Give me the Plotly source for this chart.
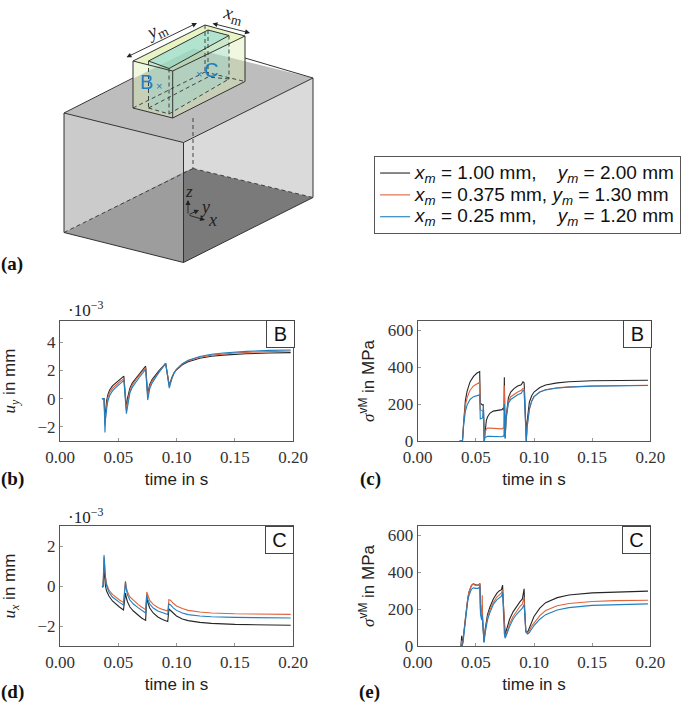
import plotly.graph_objects as go

W, H = 685, 703
BLACK, ORANGE, BLUE = "#262626", "#e0633a", "#1f7fc1"
_big = '<span style="font-size:19px">{}</span>'
NAMES = [
    _big.format("<i>x<sub>m</sub></i> = 1.00 mm,\u00a0\u00a0\u00a0\u00a0<i>y<sub>m</sub></i> = 2.00 mm"),
    _big.format("<i>x<sub>m</sub></i> = 0.375 mm,\u00a0<i>y<sub>m</sub></i> = 1.30 mm"),
    _big.format("<i>x<sub>m</sub></i> = 0.25 mm,\u00a0\u00a0\u00a0\u00a0<i>y<sub>m</sub></i> = 1.20 mm"),
]
XTICKS = [0.0, 0.05, 0.10, 0.15, 0.20]

# ---- panel b: u_y at B (1e-3 mm)
B_UY_T_K = [0.036,0.0378,0.0386,0.039,0.040,0.041,0.0425,0.045,0.048,0.051,0.054,0.0548,0.0570,0.058,0.060,0.062,0.065,0.068,0.071,0.0735,0.0753,0.0762,0.077,0.079,0.082,0.085,0.088,0.0907,0.0938,0.0945,0.096,0.098,0.100,0.105,0.110,0.120,0.130,0.140,0.150,0.160,0.180,0.198]
B_UY_K = [0,0,-1.4,-0.9,-0.15,0.25,0.6,0.9,1.12,1.32,1.52,1.6,-0.65,0.05,0.75,1.1,1.42,1.72,2.02,2.3,0.35,0.75,1.0,1.35,1.68,1.98,2.25,2.5,0.95,1.15,1.5,1.85,2.05,2.4,2.62,2.86,3.0,3.08,3.14,3.18,3.23,3.26]
B_UY_O = [0,0,-1.9,-1.2,-0.45,0.05,0.42,0.72,0.98,1.18,1.36,1.45,-0.85,-0.2,0.55,0.95,1.32,1.62,1.92,2.2,0.12,0.6,0.88,1.25,1.6,1.92,2.22,2.5,0.85,1.08,1.46,1.84,2.07,2.45,2.68,2.93,3.08,3.17,3.23,3.28,3.34,3.38]
B_UY_B = [0,0,-2.4,-1.5,-0.75,-0.2,0.2,0.55,0.8,1.0,1.2,1.3,-1.07,-0.45,0.4,0.8,1.2,1.5,1.8,2.1,-0.1,0.42,0.7,1.1,1.5,1.88,2.2,2.5,0.75,1.0,1.42,1.82,2.08,2.47,2.72,2.98,3.14,3.23,3.3,3.35,3.42,3.45]

# ---- panel c: von Mises at B (MPa)
B_VM_T_K = [0.036,0.0385,0.0395,0.040,0.041,0.0425,0.045,0.048,0.051,0.0533,0.0538,0.0558,0.0565,0.0572,0.058,0.059,0.060,0.062,0.065,0.070,0.0725,0.0738,0.0742,0.0745,0.0748,0.0752,0.076,0.077,0.078,0.080,0.083,0.086,0.089,0.0905,0.0915,0.092,0.0925,0.0934,0.094,0.095,0.096,0.098,0.100,0.105,0.110,0.120,0.130,0.150,0.170,0.198]
B_VM_K = [0,0,100,170,220,270,320,350,368,376,205,195,190,0,70,110,130,150,162,168,170,180,165,345,100,20,130,200,235,265,285,298,305,320,315,250,100,0,100,170,210,245,265,290,303,315,321,326,328,329]
B_VM_O = [0,0,95,150,195,235,275,298,310,318,170,165,160,0,50,65,70,70,68,65,66,72,70,300,60,15,120,180,215,240,255,265,275,285,280,215,85,0,70,130,170,215,240,265,278,288,293,298,300,302]
B_VM_B = [0,0,85,125,160,195,225,240,248,250,120,125,200,0,20,25,25,25,25,22,23,28,25,200,40,12,120,180,205,225,240,250,258,275,270,210,85,0,72,132,172,216,240,265,277,287,292,297,299,301]

# ---- panel d: u_x at C (1e-3 mm)
C_UX_T = [0.036,0.037,0.0378,0.0385,0.039,0.040,0.042,0.045,0.048,0.051,0.0545,0.0562,0.057,0.058,0.060,0.063,0.067,0.070,0.0735,0.0745,0.0755,0.077,0.080,0.084,0.088,0.0925,0.0935,0.095,0.097,0.100,0.105,0.110,0.120,0.130,0.150,0.170,0.198]
C_UX_K = [-0.05,-0.03,0.9,0.4,0.0,-0.25,-0.5,-0.75,-0.92,-1.05,-1.2,-0.35,-0.6,-0.8,-1.05,-1.25,-1.45,-1.6,-1.72,-0.55,-0.85,-1.1,-1.35,-1.55,-1.68,-1.78,-1.15,-1.24,-1.36,-1.5,-1.65,-1.73,-1.82,-1.87,-1.92,-1.94,-1.96]
C_UX_O = [-0.05,-0.03,1.45,0.8,0.5,0.1,-0.2,-0.42,-0.58,-0.7,-0.82,0.25,-0.1,-0.3,-0.55,-0.72,-0.92,-1.05,-1.18,-0.3,-0.5,-0.72,-0.92,-1.07,-1.17,-1.25,-0.68,-0.72,-0.85,-1.0,-1.13,-1.22,-1.3,-1.35,-1.39,-1.41,-1.42]
C_UX_B = [-0.05,-0.03,1.55,0.8,0.4,0.0,-0.3,-0.55,-0.7,-0.82,-0.95,0.2,-0.2,-0.45,-0.7,-0.9,-1.08,-1.22,-1.35,-0.45,-0.7,-0.9,-1.1,-1.25,-1.35,-1.43,-0.9,-0.95,-1.08,-1.22,-1.35,-1.43,-1.5,-1.54,-1.57,-1.59,-1.6]

# ---- panel e: von Mises at C (MPa)
C_VM_T = [0.0372,0.0378,0.0382,0.039,0.040,0.041,0.042,0.043,0.044,0.045,0.046,0.047,0.048,0.050,0.052,0.0535,0.054,0.055,0.0555,0.0558,0.0565,0.057,0.058,0.059,0.060,0.062,0.065,0.068,0.070,0.072,0.073,0.0735,0.0745,0.0752,0.076,0.077,0.079,0.082,0.085,0.088,0.090,0.0915,0.092,0.093,0.0945,0.096,0.098,0.100,0.105,0.110,0.120,0.130,0.150,0.170,0.198]
C_VM_K = [0,55,0,30,90,150,210,255,290,312,325,333,336,330,330,338,200,165,220,150,60,25,90,140,170,210,255,285,298,305,330,250,90,60,80,105,145,185,215,240,255,310,200,80,75,100,135,160,205,235,262,276,288,293,297]
C_VM_O = [0,30,0,28,88,150,210,255,290,312,325,332,335,328,328,338,190,160,275,150,60,22,80,125,155,195,235,265,278,288,305,230,70,48,60,85,120,160,190,215,228,265,170,80,70,82,108,125,165,192,218,230,241,246,248]
C_VM_B = [0,10,0,20,78,138,198,240,272,293,305,312,315,312,312,322,170,140,170,130,50,18,70,112,140,180,225,250,262,270,290,210,65,42,52,70,105,145,172,195,205,225,150,75,65,72,92,110,145,170,195,208,220,225,228]

# ---- panel a: illustration vertices (reference picture pixels)
TOP_FACE = [(64,113),(183.5,142.5),(313,78),(193.5,48.5)]
LEFT_UP = [(64,113),(183.5,142.5),(183.5,172),(64,232.5)]
LEFT_LOW = [(64,232.5),(183.5,172),(183.5,262.5)]
RIGHT_UP = [(183.5,142.5),(313,78),(313,197.5),(193,168.5),(183.5,172)]
RIGHT_LOW = [(183.5,172),(193,168.5),(313,197.5),(183.5,262.5)]
BLK_LEFT = [(133,61),(172.7,71),(172.7,118),(133,108)]
BLK_RIGHT = [(172.7,71),(245,36),(245,81.5),(172.7,118)]
BLK_TOP = [(133,61),(172.7,71),(245,36),(205,25)]
INN_TOP = [(148.5,61),(169,68.5),(229,35.5),(208,30)]
INN_LEFT = [(148.5,61),(169,68.5),(169,114),(148.5,108)]
INN_RIGHT = [(169,68.5),(229,35.5),(229,79),(169,114)]

# domain px, y-title standoff
DOMS = {
    "": ((60, 293), (321, 441), 17),
    "2": ((417.7, 650.3), (321, 441), 8),
    "3": ((60, 293), (526, 646), 17),
    "4": ((417.7, 650.3), (526, 646), 8),
}
SERIF = "Liberation Serif"
SANS = "Liberation Sans"
fig = go.Figure()


def add(ax, t, ys, legend=False):
    for y, c, n in zip(ys, (BLACK, ORANGE, BLUE), NAMES):
        fig.add_trace(go.Scatter(x=t, y=y, mode="lines", name=n, showlegend=legend,
                                 line=dict(color=c, width=1.1), xaxis="x" + ax, yaxis="y" + ax))


add("", B_UY_T_K, (B_UY_K, B_UY_O, B_UY_B), True)
add("2", B_VM_T_K, (B_VM_K, B_VM_O, B_VM_B))
add("3", C_UX_T, (C_UX_K, C_UX_O, C_UX_B))
add("4", C_VM_T, (C_VM_K, C_VM_O, C_VM_B))


def px(x):
    return x / W


def py(y):
    return 1 - y / H


ttl = lambda s: f'<span style="font-family:{SERIF};font-style:italic">{s}</span>'
Y_CONF = {
    "": ([-3, 5.5], [-2, 0, 2, 4], ttl("u<sub>y</sub>") + " in mm"),
    "2": ([0, 650], [0, 200, 400, 600], ttl("σ") + "<sup>vM</sup> in MPa"),
    "3": ([-3, 3], [-2, 0, 2], ttl("u<sub>x</sub>") + " in mm"),
    "4": ([0, 650], [0, 200, 400, 600], ttl("σ") + "<sup>vM</sup> in MPa"),
}
layout = {}
for k, ((x0, x1), (y0, y1), so) in DOMS.items():
    rng, tv, title = Y_CONF[k]
    common = dict(showgrid=False, zeroline=False, showline=True, mirror=True, linecolor="#555",
                  linewidth=1.1, ticks="inside", ticklen=3, tickcolor="#999", tickwidth=1,
                  tickfont=dict(family=SERIF, size=17, color="#333"))
    layout["xaxis" + k] = dict(common, domain=[px(x0), px(x1)], range=[0, 0.2], anchor="y" + k,
                               tickvals=XTICKS, tickformat=".2f", ticklabelstandoff=1,
                               title=dict(text="time in s", font=dict(family=SANS, size=17, color="#222"), standoff=6))
    layout["yaxis" + k] = dict(common, domain=[py(y1), py(y0)], range=rng, anchor="x" + k, tickvals=tv,
                               title=dict(text=title, font=dict(family=SANS, size=17, color="#222"), standoff=so))


def poly(pts, fill, line=None, w=1.0, dash="solid"):
    d = "M" + " L".join(f"{px(x)},{py(y)}" for x, y in pts) + " Z"
    return dict(type="path", path=d, xref="paper", yref="paper", fillcolor=fill, layer="above",
                line=dict(color=line or "rgba(0,0,0,0)", width=w, dash=dash))


def seg(p, q, c="#333", w=1.0, dash="solid"):
    return dict(type="line", xref="paper", yref="paper", x0=px(p[0]), y0=py(p[1]), x1=px(q[0]), y1=py(q[1]),
                layer="above", line=dict(color=c, width=w, dash=dash))


shapes = [
    poly(TOP_FACE, "#bdbdbd"),
    poly(RIGHT_UP, "#dadada"), poly(RIGHT_LOW, "#7a7a7a"),
    poly(LEFT_UP, "#cbcbcb"), poly(LEFT_LOW, "#9d9d9d"),
    poly(BLK_TOP, "rgba(215,235,150,0.55)"), poly(BLK_LEFT, "rgba(215,240,170,0.38)"), poly(BLK_RIGHT, "rgba(215,240,170,0.38)"),
    poly(INN_LEFT, "rgba(130,210,215,0.28)"), poly(INN_RIGHT, "rgba(130,210,215,0.28)"), poly(INN_TOP, "rgba(130,215,215,0.55)"),
]
for p, q in [((64,113),(183.5,142.5)),((183.5,142.5),(313,78)),((313,78),(313,197.5)),((313,197.5),(183.5,262.5)),
             ((183.5,262.5),(64,232.5)),((64,232.5),(64,113)),((183.5,142.5),(183.5,262.5)),((64,113),(133,78)),
             ((245,58),(313,78)),((133,61),(172.7,71)),((172.7,71),(245,36)),((245,36),(205,25)),((205,25),(133,61)),
             ((133,61),(133,108)),((133,108),(172.7,118)),((172.7,118),(245,81.5)),((245,81.5),(245,36)),
             ((172.7,71),(172.7,118)),((148.5,61),(169,68.5)),((169,68.5),(229,35.5)),((229,35.5),(208,30)),((208,30),(148.5,61))]:
    shapes.append(seg(p, q))
DASH = "4px,3px"
for p, q in [((193,118),(193,168.5)),((193,168.5),(313,197.5)),((193,168.5),(64,232.5)),((148.5,61),(148.5,108)),
             ((148.5,108),(169,114)),((169,68.5),(169,114)),((169,114),(229,79)),((229,35.5),(229,79)),((229,79),(208,77)),
             ((208,30),(208,77)),((208,77),(148.5,108)),((133,108),(205,72)),((205,72),(245,81.5)),((205,25),(205,72))]:
    shapes.append(seg(p, q, "#333", 0.9, DASH))
layout["shapes"] = shapes


def note(x, y, text, **kw):
    d = dict(x=px(x), y=py(y), xref="paper", yref="paper", text=text, showarrow=False, xanchor="center", yanchor="middle")
    d.update(kw)
    return d


def arrow(p, q, both=False):
    return note(q[0], q[1], "", showarrow=True, ax=p[0] - q[0], ay=p[1] - q[1], arrowhead=2, arrowsize=1.1, arrowwidth=0.9,
                arrowcolor="#222", arrowside="end+start" if both else "end", standoff=0, startstandoff=0,
                startarrowhead=2, startarrowsize=1.1)


ann = []
for lab, x, y in [("(a)", 12, 264), ("(b)", 12, 479), ("(c)", 370, 479), ("(d)", 12, 692), ("(e)", 369, 692)]:
    ann.append(note(x, y, f"<b>{lab}</b>", font=dict(family=SERIF, size=19, color="#111")))
for x, y in [(85, 309), (85, 516)]:
    ann.append(note(x, y, "·10<sup>−3</sup>", font=dict(family=SERIF, size=17, color="#222")))
for lab, x, y in [("B", 280, 334), ("B", 637.5, 334), ("C", 279.5, 539.5), ("C", 636.5, 539.5)]:
    ann.append(note(x, y, lab, font=dict(family=SANS, size=20, color="#111"), bgcolor="#fff", bordercolor="#444",
                    borderwidth=1, width=25, height=24))
blue_font = dict(family=SANS, size=20, color="#1f7fc1")
ann += [
    note(146, 82, "B", font=blue_font), note(211, 70, "C", font=blue_font),
    note(159, 86, "×", font=dict(family=SANS, size=11, color="#1f7fc1")),
    note(199, 74, "×", font=dict(family=SANS, size=11, color="#1f7fc1")),
    note(156, 31, "<i>y</i><sub>m</sub>", textangle=-26, font=dict(family=SERIF, size=19, color="#222")),
    note(233, 15, "<i>x</i><sub>m</sub>", textangle=14, font=dict(family=SERIF, size=19, color="#222")),
    note(189, 191, "<i>z</i>", font=dict(family=SERIF, size=17, color="#222")),
    note(205, 207, "<i>y</i>", font=dict(family=SERIF, size=18, color="#222")),
    note(213, 220, "<i>x</i>", font=dict(family=SERIF, size=18, color="#222")),
    arrow((125, 58), (197, 23), True), arrow((211, 23), (250, 33), True),
    arrow((188, 215), (188, 200)), arrow((188, 215), (205, 220)), arrow((188, 215), (199, 210)),
]
layout["annotations"] = ann

fig.update_layout(
    width=W, height=H, margin=dict(l=0, r=0, t=0, b=0, autoexpand=False), paper_bgcolor="#fff", plot_bgcolor="#fff",
    font=dict(family=SANS, color="#222"),
    legend=dict(x=px(374), y=py(156), xanchor="left", yanchor="top", bordercolor="#555", borderwidth=1.1,
                bgcolor="#fff", font=dict(family=SANS, size=14.5, color="#111"), itemwidth=30),
    **layout,
)
fig.write_html("out.html", config=dict(displayModeBar=False), post_script="document.body.style.margin='0';")
